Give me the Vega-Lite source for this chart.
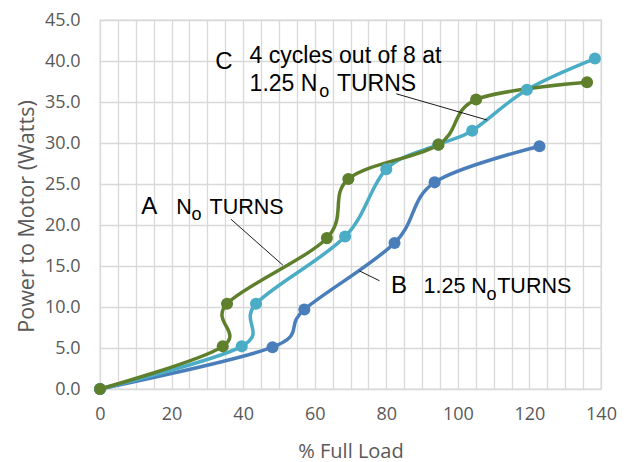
{
  "$schema": "https://vega.github.io/schema/vega-lite/v6.json",
  "width": 501,
  "height": 369,
  "autosize": {"type": "none"},
  "padding": {"left": 100, "top": 20, "right": 28, "bottom": 73},
  "background": "white",
  "config": {
    "view": {"stroke": "#d9d9d9", "strokeWidth": 1.3},
    "axis": {
      "ticks": false,
      "domain": false,
      "gridColor": "#d9d9d9",
      "gridWidth": 1.3,
      "labelFont": "Open Sans",
      "labelFontSize": 18,
      "labelColor": "#595959",
      "titleFont": "Open Sans",
      "titleFontSize": 20,
      "titleFontWeight": "normal",
      "titleColor": "#595959"
    }
  },
  "datasets": {
    "series": [
      {"series": "B", "load": 0, "power": 0},
      {"series": "B", "load": 48.2, "power": 5.1},
      {"series": "B", "load": 57.1, "power": 9.7},
      {"series": "B", "load": 82.3, "power": 17.8},
      {"series": "B", "load": 93.5, "power": 25.2},
      {"series": "B", "load": 122.8, "power": 29.6},
      {"series": "C", "load": 0, "power": 0},
      {"series": "C", "load": 39.6, "power": 5.2},
      {"series": "C", "load": 43.6, "power": 10.4},
      {"series": "C", "load": 68.5, "power": 18.6},
      {"series": "C", "load": 80.0, "power": 26.8},
      {"series": "C", "load": 94.5, "power": 29.8},
      {"series": "C", "load": 104.0, "power": 31.5},
      {"series": "C", "load": 119.3, "power": 36.5},
      {"series": "C", "load": 138.3, "power": 40.3},
      {"series": "A", "load": 0, "power": 0},
      {"series": "A", "load": 34.3, "power": 5.2},
      {"series": "A", "load": 35.5, "power": 10.4},
      {"series": "A", "load": 63.4, "power": 18.4},
      {"series": "A", "load": 69.4, "power": 25.6},
      {"series": "A", "load": 94.6, "power": 29.8},
      {"series": "A", "load": 105.1, "power": 35.3},
      {"series": "A", "load": 136.1, "power": 37.4}
    ],
    "leaders": [
      {"load": 82.8, "power": 36.0, "load2": 108.2, "power2": 32.8},
      {"load": 36.6, "power": 20.7, "load2": 51.1, "power2": 15.1},
      {"load": 72.5, "power": 14.4, "load2": 78.1, "power2": 13.2}
    ],
    "labels": [
      {"role": "letter", "text": "C", "load": 32.2, "power": 39.0},
      {"role": "mainC", "text": "4 cycles out of 8 at", "load": 41.8, "power": 39.7},
      {"role": "mainC", "text": "1.25 N", "load": 41.8, "power": 36.3},
      {"role": "sub", "text": "o", "load": 61.3, "power": 35.6},
      {"role": "mainC", "text": "TURNS", "load": 66.2, "power": 36.3},
      {"role": "letter", "text": "A", "load": 11.5, "power": 21.3},
      {"role": "main", "text": "N", "load": 21.3, "power": 21.3},
      {"role": "sub", "text": "o", "load": 25.6, "power": 20.6},
      {"role": "main", "text": "TURNS", "load": 30.6, "power": 21.3},
      {"role": "letter", "text": "B", "load": 81.3, "power": 11.7},
      {"role": "main", "text": "1.25 N", "load": 90.4, "power": 11.7},
      {"role": "sub", "text": "o", "load": 108.0, "power": 10.85},
      {"role": "main", "text": "TURNS", "load": 111.0, "power": 11.7}
    ]
  },
  "layer": [
    {
      "data": {"name": "series"},
      "mark": {
        "type": "line",
        "interpolate": "cardinal",
        "strokeWidth": 3.5,
        "point": {"filled": true, "size": 145, "opacity": 1}
      },
      "encoding": {
        "x": {
          "field": "load",
          "type": "quantitative",
          "scale": {"domain": [0, 140], "nice": false},
          "axis": {
            "title": "% Full Load",
            "values": [0, 5, 10, 15, 20, 25, 30, 35, 40, 45, 50, 55, 60, 65, 70, 75, 80, 85, 90, 95, 100, 105, 110, 115, 120, 125, 130, 135, 140],
            "tickCount": 100,
            "labelExpr": "datum.value % 20 === 0 ? datum.label : ''",
            "labelFlush": false,
            "labelOverlap": false,
            "labelPadding": 16,
            "titleFontSize": 20,
            "titleBaseline": "alphabetic",
            "titleY": 68
          }
        },
        "y": {
          "field": "power",
          "type": "quantitative",
          "scale": {"domain": [0, 45], "nice": false},
          "axis": {
            "title": "Power to Motor (Watts)",
            "values": [0, 5, 10, 15, 20, 25, 30, 35, 40, 45],
            "tickCount": 100,
            "format": ".1f",
            "labelPadding": 20,
            "labelOverlap": false,
            "titleFontSize": 21.5,
            "titleX": -73,
            "titleY": 196,
            "titleBaseline": "middle"
          }
        },
        "color": {
          "field": "series",
          "type": "nominal",
          "scale": {"domain": ["B", "C", "A"], "range": ["#4a7ebb", "#4bacc6", "#5e7f2c"]},
          "legend": null
        }
      }
    },
    {
      "data": {"name": "leaders"},
      "mark": {"type": "rule", "color": "#000000", "strokeWidth": 0.9},
      "encoding": {
        "x": {"field": "load", "type": "quantitative"},
        "y": {"field": "power", "type": "quantitative"},
        "x2": {"field": "load2"},
        "y2": {"field": "power2"}
      }
    },
    {
      "data": {"name": "labels"},
      "transform": [{"filter": "datum.role === 'letter'"}],
      "mark": {"type": "text", "font": "Liberation Sans", "fontSize": 24, "align": "left", "baseline": "alphabetic", "color": "#000000"},
      "encoding": {
        "x": {"field": "load", "type": "quantitative"},
        "y": {"field": "power", "type": "quantitative"},
        "text": {"field": "text"}
      }
    },
    {
      "data": {"name": "labels"},
      "transform": [{"filter": "datum.role === 'mainC'"}],
      "mark": {"type": "text", "font": "Liberation Sans", "fontSize": 23, "align": "left", "baseline": "alphabetic", "color": "#000000"},
      "encoding": {
        "x": {"field": "load", "type": "quantitative"},
        "y": {"field": "power", "type": "quantitative"},
        "text": {"field": "text"}
      }
    },
    {
      "data": {"name": "labels"},
      "transform": [{"filter": "datum.role === 'main'"}],
      "mark": {"type": "text", "font": "Liberation Sans", "fontSize": 21.5, "align": "left", "baseline": "alphabetic", "color": "#000000"},
      "encoding": {
        "x": {"field": "load", "type": "quantitative"},
        "y": {"field": "power", "type": "quantitative"},
        "text": {"field": "text"}
      }
    },
    {
      "data": {"name": "labels"},
      "transform": [{"filter": "datum.role === 'sub'"}],
      "mark": {"type": "text", "font": "Liberation Sans", "fontSize": 18, "align": "left", "baseline": "alphabetic", "color": "#000000"},
      "encoding": {
        "x": {"field": "load", "type": "quantitative"},
        "y": {"field": "power", "type": "quantitative"},
        "text": {"field": "text"}
      }
    }
  ]
}
